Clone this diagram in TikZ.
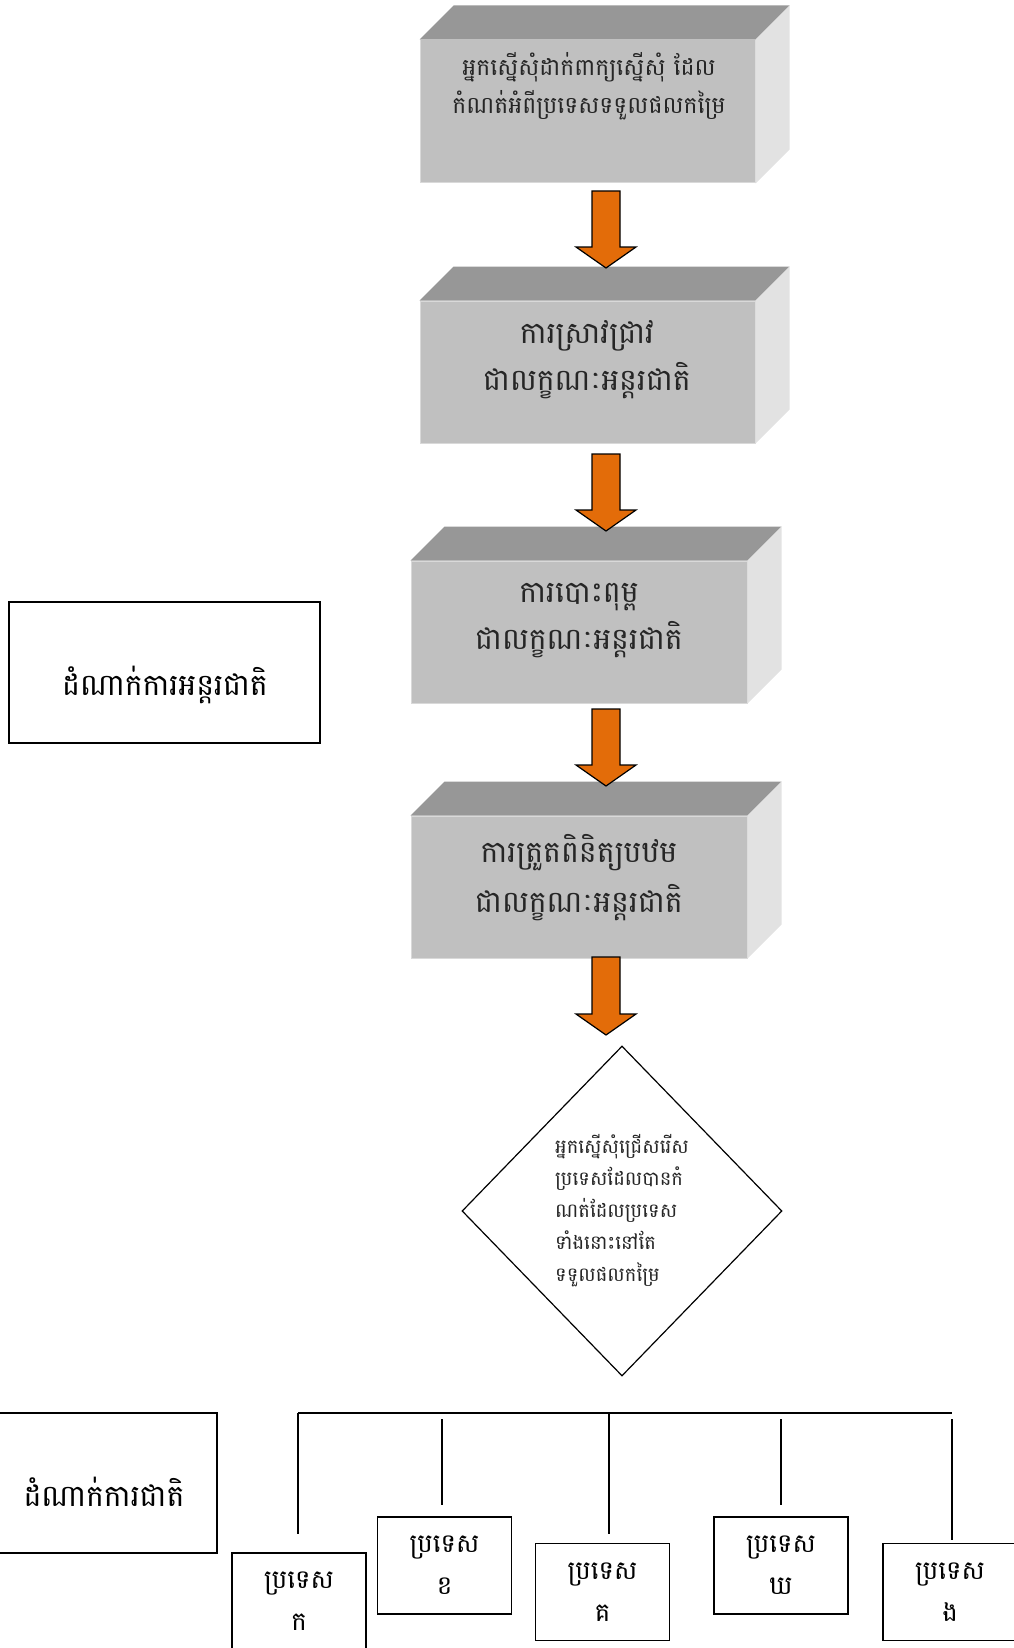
\documentclass[tikz,border=0pt]{standalone}
\usepackage{fontspec}
\newfontfamily\khmer[Script=Khmer]{Battambang}
\usetikzlibrary{shapes.geometric,calc}

\definecolor{boxfront}{HTML}{C0C0C0}
\definecolor{boxtop}{HTML}{979797}
\definecolor{boxside}{HTML}{E2E2E2}
\definecolor{arroworange}{HTML}{E36C09}

\tikzset{
  frontface/.style={draw=gray!30, line width=1pt, fill=boxfront, minimum width=336pt, minimum height=142pt, inner sep=0pt},
  topface/.style={fill=boxtop},
  sideface/.style={fill=boxside},
  slabtext/.style={font=\khmer\fontsize{30}{47}\selectfont, align=center, text=black!85},
  plainbox/.style={draw, line width=1.4pt, inner sep=0pt, align=center},
  orangearrow/.style={draw=black, line width=1.2pt, fill=arroworange, line join=miter},
  busline/.style={line width=1.4pt}
}

\newcommand{\slabsides}[1]{%
  \fill[topface] (#1.north west) -- ++(34,-34) -- ($(#1.north east)+(34,-34)$) -- (#1.north east) -- cycle;
  \fill[sideface] (#1.north east) -- ++(34,-34) -- ($(#1.south east)+(34,-34)$) -- (#1.south east) -- cycle;}

\newcommand{\blockarrow}[2]{%
  \draw[orangearrow] ($(#1)+(-14,0)$) -- ($(#1)+(14,0)$) -- ($(#2)+(14,-21)$) -- ($(#2)+(30,-21)$)
    -- (#2) -- ($(#2)+(-30,-21)$) -- ($(#2)+(-14,-21)$) -- cycle;}

\begin{document}
\begin{tikzpicture}[x=1pt,y=-1pt]
  \useasboundingbox (0,0) rectangle (1013,1648);

  \coordinate (a1s) at (606,191);
  \coordinate (a1e) at (606,268);
  \coordinate (a2s) at (606,454);
  \coordinate (a2e) at (606,531);
  \coordinate (a3s) at (606,709);
  \coordinate (a3e) at (606,786);
  \coordinate (a4s) at (606,957);
  \coordinate (a4e) at (606,1035);

  \node[frontface, minimum width=335pt, minimum height=143pt] (request) at (587.5,111.5) {};
  \slabsides{request}
  \node[slabtext, font=\khmer\fontsize{23.5}{38}\selectfont] (requesttxt) at (589,86)
    {អ្នកស្នើសុំដាក់ពាក្យស្នើសុំ ដែល\\កំណត់អំពីប្រទេសទទួលផលកម្រៃ};

  \node[frontface, minimum width=335pt] (search) at (587.5,372) {};
  \slabsides{search}
  \node[slabtext] (searchtxt) at (587,360) {ការស្រាវជ្រាវ\\ជាលក្ខណៈអន្តរជាតិ};

  \node[frontface] (publish) at (579,632) {};
  \slabsides{publish}
  \node[slabtext] (publishtxt) at (579,621) {ការបោះពុម្ព\\ជាលក្ខណៈអន្តរជាតិ};

  \node[frontface] (exam) at (579,887) {};
  \slabsides{exam}
  \node[slabtext, font=\khmer\fontsize{30}{50}\selectfont] (examtxt) at (579,878) {ការត្រួតពិនិត្យបឋម\\ជាលក្ខណៈអន្តរជាតិ};

  \blockarrow{a1s}{a1e}
  \blockarrow{a2s}{a2e}
  \blockarrow{a3s}{a3e}
  \blockarrow{a4s}{a4e}

  \node[diamond, draw, line width=1.2pt, minimum width=320pt, minimum height=330pt, inner sep=0pt,
        align=left, font=\khmer\fontsize{19.5}{32}\selectfont, text=black!85] (choose) at (622,1211)
    {អ្នកស្នើសុំជ្រើសរើស\\ប្រទេសដែលបានកំ\\ណត់ដែលប្រទេស\\ទាំងនោះនៅតែ\\ទទួលផលកម្រៃ};

  \node[plainbox, minimum width=311pt, minimum height=141pt] (intlphase) at (164.5,672.5) {};
  \node[font=\khmer\fontsize{30}{30}\selectfont] (intltxt) at (165,685) {ដំណាក់ការអន្តរជាតិ};
  \node[plainbox, minimum width=222pt, minimum height=140pt] (natphase) at (106,1483) {};
  \node[font=\khmer\fontsize{30}{30}\selectfont] (nattxt) at (104,1492) {ដំណាក់ការជាតិ};

  \tikzset{country/.style={plainbox, minimum width=134pt, minimum height=97pt, font=\khmer\fontsize{26}{42}\selectfont}}
  \node[country] (ck) at (299,1601.5) {ប្រទេស\\ក};
  \node[country] (ckh) at (444.5,1565.5) {ប្រទេស\\ខ};
  \node[country] (ckk) at (602.5,1592) {ប្រទេស\\គ};
  \node[country] (ckg) at (781,1565.5) {ប្រទេស\\ឃ};
  \node[country] (cng) at (950,1592) {ប្រទេស\\ង};

  \coordinate (busl) at (298,1413);
  \coordinate (busr) at (952,1413);
  \coordinate (busk) at (298,1413);
  \coordinate (buskh) at (442,1419);
  \coordinate (buskk) at (609,1413);
  \coordinate (buskg) at (781,1419);
  \coordinate (busng) at (952,1419);

  \draw[busline] (busl) -- (busr);
  \draw[busline, shorten >=18pt] (busk) -- (busk |- ck.north);
  \draw[busline, shorten >=11pt] (buskh) -- (buskh |- ckh.north);
  \draw[busline, shorten >=9pt] (buskk) -- (buskk |- ckk.north);
  \draw[busline, shorten >=11pt] (buskg) -- (buskg |- ckg.north);
  \draw[busline, shorten >=3pt] (busng) -- (busng |- cng.north);
\end{tikzpicture}
\end{document}
